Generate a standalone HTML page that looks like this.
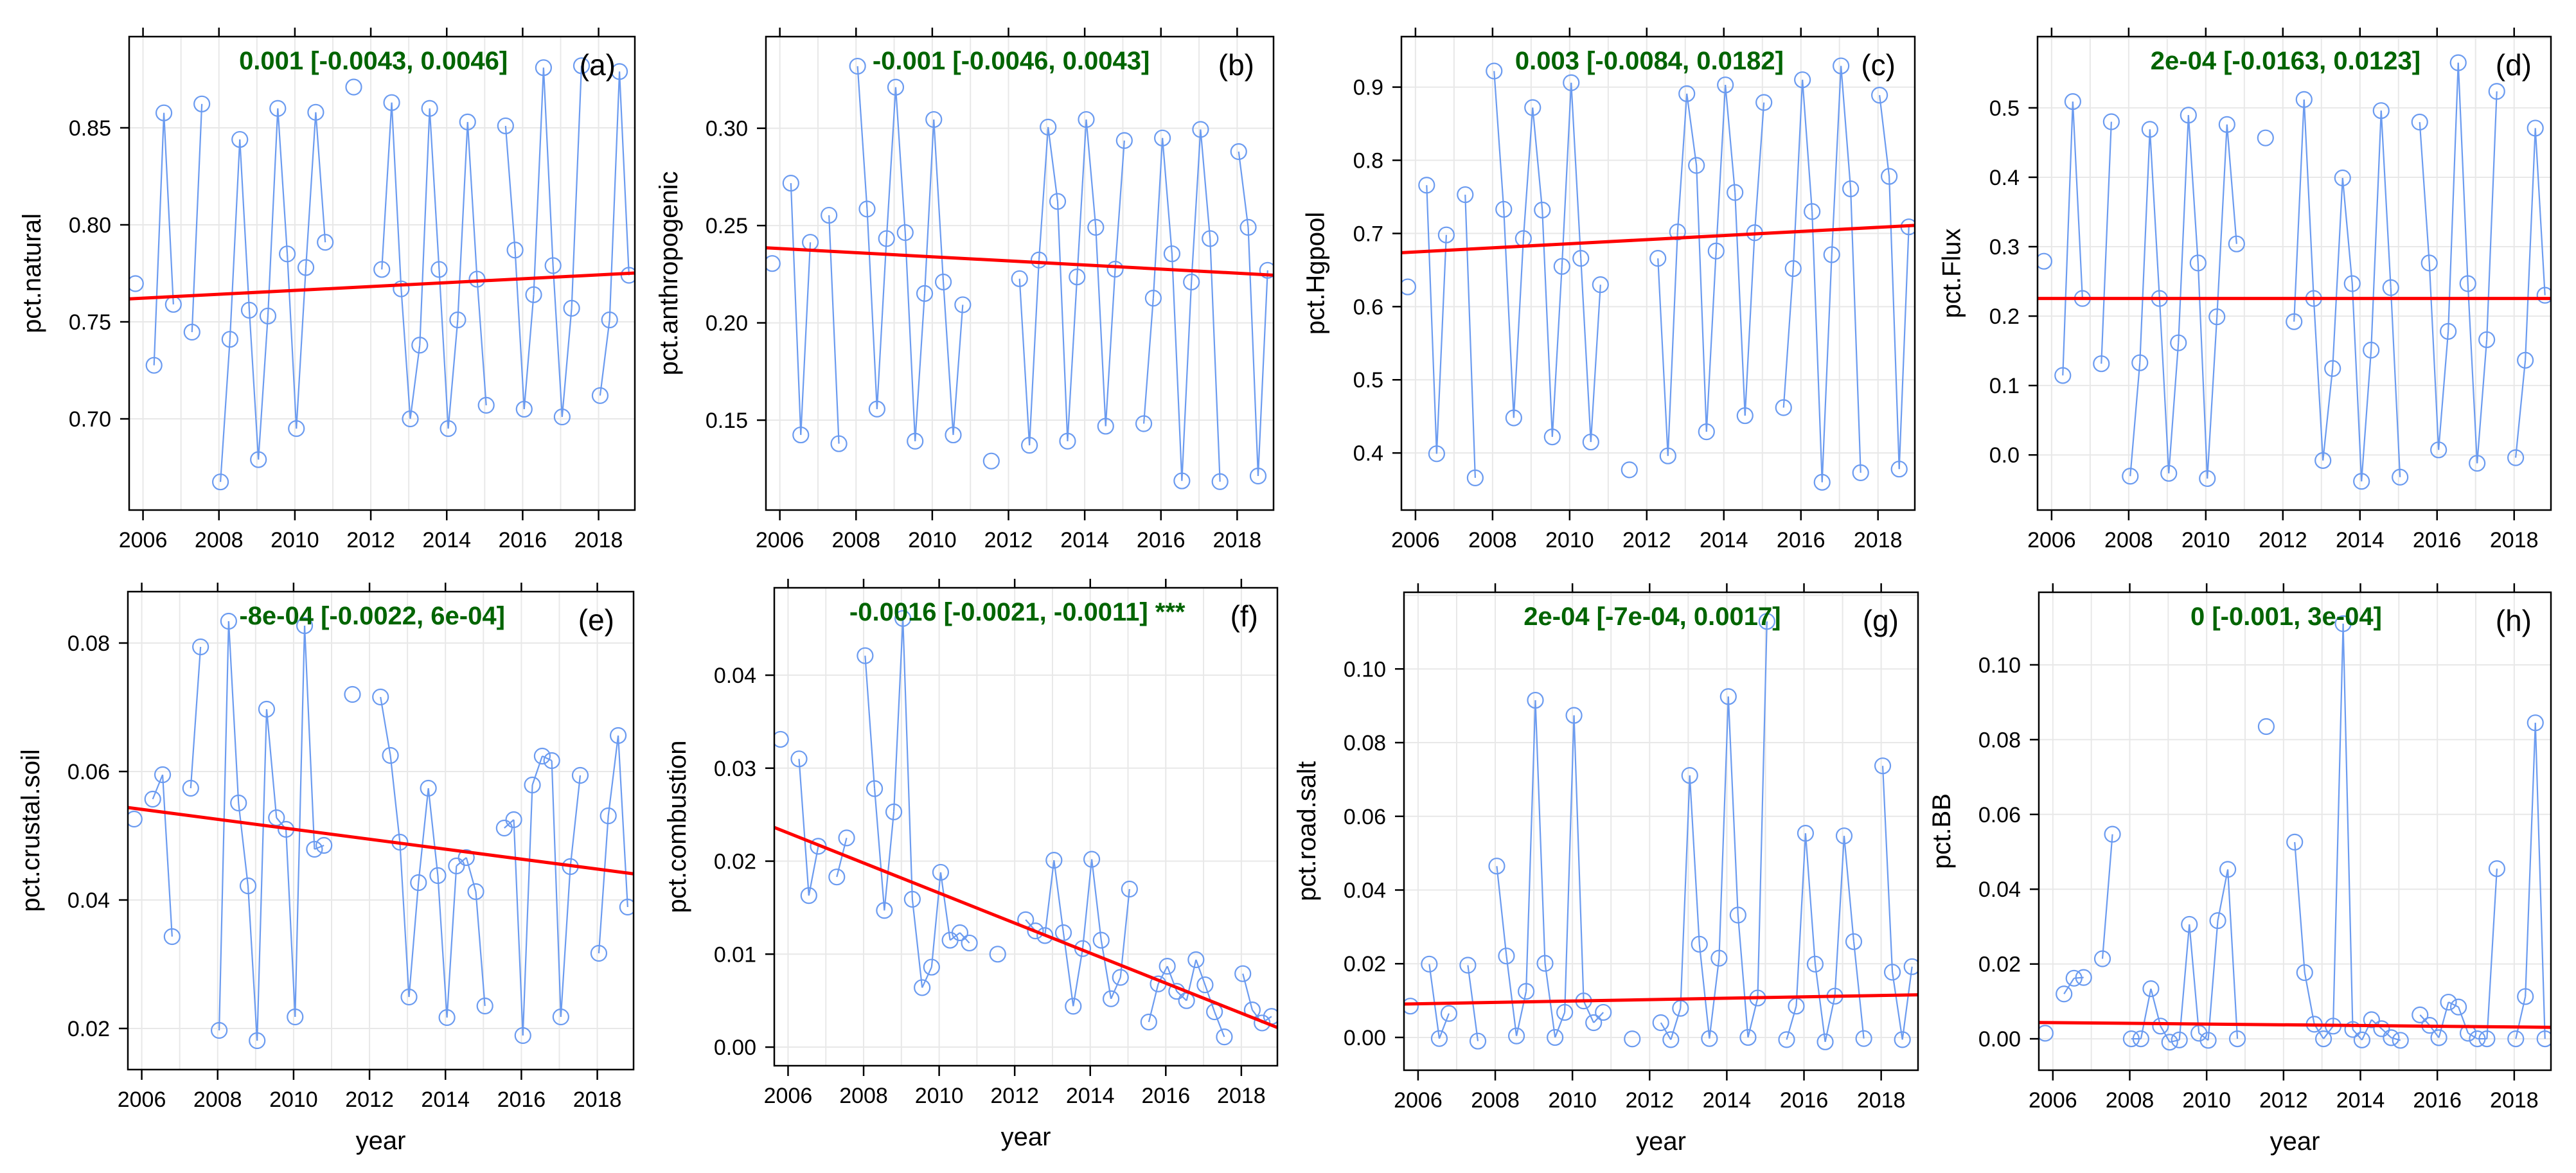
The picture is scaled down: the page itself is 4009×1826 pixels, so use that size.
<!DOCTYPE html>
<html><head><meta charset="utf-8">
<style>
html,body{margin:0;padding:0;background:#fff;}
svg{display:block;font-family:"Liberation Sans",sans-serif;}
</style></head>
<body>
<svg id="chart" width="4009" height="1826" viewBox="0 0 4009 1826" xmlns="http://www.w3.org/2000/svg"></svg>
<script>
// Quarterly categories 2005Q4 .. 2018Q4
const quarters = ["2005Q4","2006Q1","2006Q2","2006Q3","2006Q4","2007Q1","2007Q2","2007Q3","2007Q4",
"2008Q1","2008Q2","2008Q3","2008Q4","2009Q1","2009Q2","2009Q3","2009Q4","2010Q1","2010Q2","2010Q3","2010Q4",
"2011Q1","2011Q2","2011Q3","2011Q4","2012Q1","2012Q2","2012Q3","2012Q4","2013Q1","2013Q2","2013Q3","2013Q4",
"2014Q1","2014Q2","2014Q3","2014Q4","2015Q1","2015Q2","2015Q3","2015Q4","2016Q1","2016Q2","2016Q3","2016Q4",
"2017Q1","2017Q2","2017Q3","2017Q4","2018Q1","2018Q2","2018Q3","2018Q4"];
const xTickYears = [2006,2008,2010,2012,2014,2016,2018];

const natural = [0.7697,null,0.7276,0.8577,0.759,null,0.7447,0.8623,null,0.6675,0.741,0.844,0.756,0.679,0.753,0.860,0.785,0.695,0.778,0.858,0.791,null,null,0.871,null,null,0.777,0.863,0.767,0.700,0.738,0.860,0.777,0.695,0.751,0.853,0.772,0.707,null,0.851,0.787,0.705,0.764,0.881,0.779,0.701,0.757,0.882,null,0.712,0.751,0.879,0.774];
const anthropogenic = [0.2305,null,0.2718,0.1424,0.2414,null,0.2553,0.1379,null,0.3319,0.2585,0.1557,0.2433,0.3211,0.2464,0.1392,0.2151,0.3045,0.2210,0.1424,0.2093,null,null,0.1290,null,null,0.2227,0.1371,0.2323,0.3006,0.2624,0.1392,0.2236,0.3045,0.2491,0.1469,0.2276,0.2937,null,0.1482,0.2127,0.2950,0.2355,0.1188,0.2210,0.2994,0.2433,0.1184,null,0.2880,0.2491,0.1213,0.2270];
const hgpool = [0.627,null,0.766,0.399,0.698,null,0.753,0.366,null,0.922,0.733,0.448,0.693,0.872,0.732,0.422,0.655,0.906,0.666,0.415,0.630,null,null,0.377,null,null,0.666,0.396,0.702,0.891,0.793,0.429,0.676,0.903,0.756,0.451,0.701,0.879,null,0.462,0.652,0.910,0.730,0.360,0.671,0.929,0.761,0.373,null,0.889,0.778,0.378,0.709];
const flux = [0.279,null,0.1145,0.509,0.2254,null,0.1314,0.480,null,-0.0306,0.1328,0.469,0.2254,-0.0265,0.1615,0.4895,0.2765,-0.034,0.199,0.476,0.304,null,null,0.4567,null,null,0.192,0.512,0.2254,-0.008,0.1245,0.399,0.2468,-0.038,0.151,0.496,0.241,-0.032,null,0.4795,0.2765,0.0073,0.178,0.565,0.2468,-0.012,0.166,0.5237,null,-0.004,0.1364,0.4708,0.230];
const crustalSoil = [0.0526,null,0.0557,0.0595,0.0343,null,0.0574,0.0794,null,0.0197,0.0834,0.0551,0.0422,0.0181,0.0697,0.0528,0.0510,0.0218,0.0827,0.0479,0.0485,null,null,0.0720,null,null,0.0716,0.0625,0.0490,0.0249,0.0427,0.0574,0.0438,0.0217,0.0453,0.0466,0.0413,0.0235,null,0.0512,0.0525,0.0189,0.0579,0.0624,0.0617,0.0218,0.0452,0.0594,null,0.0317,0.0531,0.0656,0.0389];
const combustion = [0.0331,null,0.0310,0.0163,0.0216,null,0.0183,0.0225,null,0.0421,0.0278,0.0147,0.0253,0.0461,0.0159,0.0064,0.0086,0.0188,0.0115,0.0123,0.0112,null,null,0.0100,null,null,0.0137,0.0125,0.0120,0.0201,0.0123,0.0044,0.0106,0.0202,0.0115,0.0052,0.0075,0.0170,null,0.0027,0.0068,0.0087,0.0060,0.0050,0.0094,0.0067,0.0038,0.0011,null,0.0079,0.0040,0.0026,0.0033];
const roadSalt = [0.0085,null,0.0199,-0.0003,0.0065,null,0.0196,-0.0010,null,0.0465,0.0221,0.0004,0.0125,0.0915,0.0201,0.0000,0.0068,0.0874,0.0099,0.0040,0.0068,null,null,-0.0004,null,null,0.0040,-0.0006,0.0079,0.0711,0.0253,-0.0003,0.0215,0.0925,0.0332,0.0000,0.0107,0.1129,null,-0.0006,0.0085,0.0554,0.0199,-0.0012,0.0112,0.0547,0.0260,-0.0003,null,0.0737,0.0177,-0.0006,0.0192];
const bb = [0.0015,null,0.0120,0.0162,0.0164,null,0.0214,0.0547,null,0.0000,0.0000,0.0134,0.0034,-0.0009,-0.0003,0.0306,0.0015,-0.0004,0.0316,0.0453,0.0000,null,null,0.0835,null,null,0.0526,0.0177,0.0039,0.0000,0.0034,0.1110,0.0025,-0.0003,0.0051,0.0027,0.0003,-0.0004,null,0.0064,0.0036,0.0003,0.0098,0.0085,0.0015,0.0000,0.0000,0.0455,null,0.0000,0.0113,0.0845,0.0000];

const ticksA = [0.70,0.75,0.80,0.85];
const ticksB = [0.15,0.20,0.25,0.30];
const ticksC = [0.4,0.5,0.6,0.7,0.8,0.9];
const ticksD = [0.0,0.1,0.2,0.3,0.4,0.5];
const ticksE = [0.02,0.04,0.06,0.08];
const ticksF = [0.00,0.01,0.02,0.03,0.04];
const ticksG = [0.00,0.02,0.04,0.06,0.08,0.10];
const ticksH = [0.00,0.02,0.04,0.06,0.08,0.10];

const annotations = ["0.001 [-0.0043, 0.0046]","-0.001 [-0.0046, 0.0043]","0.003 [-0.0084, 0.0182]","2e-04 [-0.0163, 0.0123]",
"-8e-04 [-0.0022, 6e-04]","-0.0016 [-0.0021, -0.0011]  ***","2e-04 [-7e-04, 0.0017]","0 [-0.001, 3e-04]"];

const panels = [
 {id:"a",name:"natural",vals:natural,ticks:ticksA,dec:2,box:[201,57,988,794],yr:[0.653,0.897],label:"pct.natural",xlab:false},
 {id:"b",name:"anthropogenic",vals:anthropogenic,ticks:ticksB,dec:2,box:[1192,57,1982,794],yr:[0.1038,0.3471],label:"pct.anthropogenic",xlab:false},
 {id:"c",name:"hgpool",vals:hgpool,ticks:ticksC,dec:1,box:[2181,57,2980,794],yr:[0.322,0.969],label:"pct.Hgpool",xlab:false},
 {id:"d",name:"flux",vals:flux,ticks:ticksD,dec:1,box:[3171,57,3970,794],yr:[-0.0794,0.6026],label:"pct.Flux",xlab:false},
 {id:"e",name:"crustal-soil",vals:crustalSoil,ticks:ticksE,dec:2,box:[199,921,986,1665],yr:[0.0136,0.088],label:"pct.crustal.soil",xlab:true},
 {id:"f",name:"combustion",vals:combustion,ticks:ticksF,dec:2,box:[1205,915,1988,1659],yr:[-0.002,0.0494],label:"pct.combustion",xlab:true},
 {id:"g",name:"road-salt",vals:roadSalt,ticks:ticksG,dec:2,box:[2185,922,2985,1666],yr:[-0.0089,0.1208],label:"pct.road.salt",xlab:true},
 {id:"h",name:"bb",vals:bb,ticks:ticksH,dec:2,box:[3173,922,3970,1666],yr:[-0.0084,0.1194],label:"pct.BB",xlab:true}
];

const NS = "http://www.w3.org/2000/svg";
const svg = document.getElementById("chart");
const X0 = 2005.635, X1 = 2018.955;
const qOff = {Q1:0.04,Q2:0.29,Q3:0.55,Q4:0.80};
function qYear(q){ return parseInt(q.slice(0,4)) + qOff[q.slice(4)]; }
function mk(tag, attrs, parent){
  const e = document.createElementNS(NS, tag);
  for (const k in attrs) e.setAttribute(k, attrs[k]);
  (parent||svg).appendChild(e);
  return e;
}
function median(a){ const s=a.slice().sort((x,y)=>x-y); const n=s.length; return n%2?s[(n-1)/2]:(s[n/2-1]+s[n/2])/2; }

panels.forEach((p, pi) => {
  const [L,T,R,B] = p.box;
  const sx = v => L + (v - X0) / (X1 - X0) * (R - L);
  const sy = v => B - (v - p.yr[0]) / (p.yr[1] - p.yr[0]) * (B - T);
  const g = mk("g", {});
  
  
  const cp = mk("clipPath", {id:"clip"+p.id}, g);
  mk("rect", {x:L, y:T, width:R-L, height:B-T}, cp);

  const grid = mk("g", {stroke:"#e8e8e8","stroke-width":2}, g);
  
  
  for (let y = 2006; y <= 2018; y++) mk("line", {x1:sx(y), x2:sx(y), y1:T, y2:B}, grid);
  const step = p.ticks[1] - p.ticks[0];
  for (let k = -3; k < 20; k++) {
    const v = p.ticks[0] + k*step;
    if (v > p.yr[0] && v < p.yr[1]) mk("line", {x1:L, x2:R, y1:sy(v), y2:sy(v)}, grid);
  }

  p.ticks.forEach(v => {
    const t = mk("line", {x1:L-14, x2:L, y1:sy(v), y2:sy(v), stroke:"#000","stroke-width":2.5}, g);
    
    
    const tx = mk("text", {x:L-28, y:sy(v)+12, "text-anchor":"end","font-size":34, fill:"#000"}, g);
    tx.textContent = v.toFixed(p.dec);
    
    
  });
  xTickYears.forEach(yv => {
    mk("line", {x1:sx(yv), x2:sx(yv), y1:B, y2:B+16, stroke:"#000","stroke-width":2.5}, g);
    mk("line", {x1:sx(yv), x2:sx(yv), y1:T-14, y2:T, stroke:"#000","stroke-width":2.5}, g);
    const tx = mk("text", {x:sx(yv), y:B+58, "text-anchor":"middle","font-size":34, fill:"#000"}, g);
    tx.textContent = String(yv);
    
    
  });

  const lw = Math.max(...p.ticks.map(v => v.toFixed(p.dec).length)) * 17.5;
  const tcx = L - 30 - lw - 52;
  const yt = mk("text", {x:tcx, y:(T+B)/2, "text-anchor":"middle","font-size":40, fill:"#000",
    transform:`rotate(-90 ${tcx} ${(T+B)/2})`, dy:14}, g);
  yt.textContent = p.label;
  
  
  if (p.xlab) {
    const xt = mk("text", {x:(L+R)/2, y:B+124, "text-anchor":"middle","font-size":40, fill:"#000"}, g);
    xt.textContent = "year";
    
    
  }

  const pts = [];
  quarters.forEach((q, i) => { if (p.vals[i] !== null && p.vals[i] !== undefined) pts.push({i, x:qYear(q), y:p.vals[i]}); });
  const sg = mk("g", {"clip-path":`url(#clip${p.id})`}, g);
  
  
  for (let k = 1; k < pts.length; k++) {
    if (pts[k].i === pts[k-1].i + 1) {
      mk("line", {x1:sx(pts[k-1].x), y1:sy(pts[k-1].y), x2:sx(pts[k].x), y2:sy(pts[k].y),
        stroke:"#6b9bf0","stroke-width":2.2}, sg);
    }
  }
  pts.forEach(pt => {
    const c = mk("circle", {cx:sx(pt.x), cy:sy(pt.y), r:12, fill:"none", stroke:"#6b9bf0","stroke-width":2.2}, sg);
    
    
  });

  const slopes = [];
  for (let a = 0; a < pts.length; a++) for (let b = a+1; b < pts.length; b++) {
    if (pts[b].x !== pts[a].x) slopes.push((pts[b].y - pts[a].y) / (pts[b].x - pts[a].x));
  }
  const slope = median(slopes);
  const icpt = median(pts.map(pt => pt.y - slope*pt.x));
  const tl = mk("line", {x1:sx(X0), y1:sy(icpt + slope*X0), x2:sx(X1), y2:sy(icpt + slope*X1),
    stroke:"#ff0000","stroke-width":5, "clip-path":`url(#clip${p.id})`}, g);
  
  

  const bx = mk("rect", {x:L, y:T, width:R-L, height:B-T, fill:"none", stroke:"#000","stroke-width":2.5}, g);
  
  

  const an = mk("text", {x:L + 0.483*(R-L), y:T+51, "text-anchor":"middle","font-size":40,"font-weight":"bold", fill:"#006400"}, g);
  an.textContent = annotations[pi];
  
  
  const tg = mk("text", {x:R-30, y:T+60, "text-anchor":"end","font-size":46, fill:"#000"}, g);
  tg.textContent = "(" + p.id + ")";
  
  
});
</script>
</body></html>
